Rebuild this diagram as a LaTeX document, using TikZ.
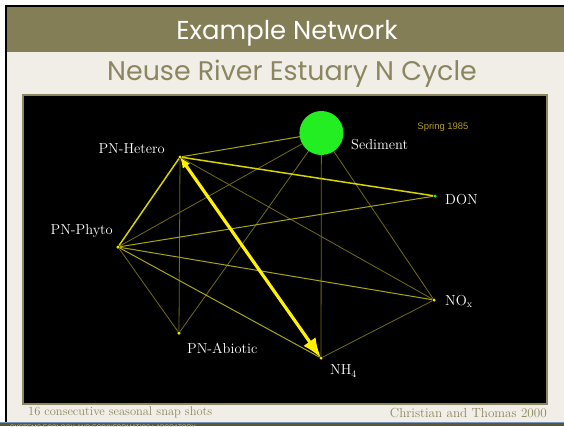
\documentclass[tikz,border=0pt]{standalone}
\usepackage{fontspec}
\newfontfamily\titlefont{Poppins}
\newfontfamily\smallsans{Liberation Sans}
\usetikzlibrary{arrows.meta}
\definecolor{slideolive}{HTML}{837E55}
\definecolor{slidebeige}{HTML}{F0EEE6}
\definecolor{subolive}{HTML}{8C8660}
\definecolor{bandolive}{HTML}{5B5638}
\definecolor{bandblue}{HTML}{7595BC}
\definecolor{sedgreen}{HTML}{22EE22}
\definecolor{dimyellow}{HTML}{6F6C14}
\definecolor{midyellow}{HTML}{A8A512}
\definecolor{hotyellow}{HTML}{D8D400}
\definecolor{springgold}{HTML}{B39B1E}

\tikzset{
  pool/.style={circle,fill=yellow!85!olive,inner sep=0pt,minimum size=3.5pt},
  poolname/.style={text=white,font=\fontsize{14.5}{16}\selectfont,inner sep=0pt},
  weakflow/.style={draw=dimyellow,line width=0.8pt},
  midflow/.style={draw=midyellow,line width=1pt},
  hotflow/.style={draw=hotyellow,line width=1.5pt},
  bigflow/.style={draw=yellow,line width=3.2pt,
    {Latex[length=11pt,width=9pt]}-{Latex[length=20pt,width=15pt]}},
}

\begin{document}
\begin{tikzpicture}[x=1bp,y=-1bp]
\useasboundingbox (0,0) rectangle (564,426);
% slide background
\fill[white] (0,0) rectangle (564,426);
\fill[black] (5,5) rectangle (564,422);
\fill[slideolive] (7,7) rectangle (564,52);
\fill[slidebeige] (7,52) rectangle (564,422);
\fill[bandolive] (0,422) rectangle (564,426);
\draw[bandblue,line width=1bp] (0,422) -- (564,422);
\begin{scope}
\clip (0,422.5) rectangle (564,426);
\node[anchor=base west,inner sep=0pt,text=slidebeige!70!bandolive,font=\smallsans\fontsize{6.5}{8}\selectfont]
  (lab) at (10,429.5) {SYSTEMS ECOLOGY AND ECOINFORMATICS LABORATORY};
\end{scope}

% titles
\node[text=white,font=\titlefont\fontsize{26}{30}\selectfont] (title) at (287,33) {Example Network};
\node[text=subolive,font=\titlefont\fontsize{27}{30}\selectfont] (subtitle) at (292,74) {Neuse River Estuary N Cycle};

% black panel
\draw[subolive,line width=1.5bp,fill=black] (23,95) rectangle (547,404);

% pools
\node[pool] (het) at (180,157) {};
\node[pool] (phy) at (118,247) {};
\node[pool] (abi) at (179,333) {};
\node[pool,fill=sedgreen] (don) at (435,196) {};
\node[pool] (nox) at (434,300) {};
\node[pool] (nh) at (321,358) {};
\coordinate (sed) at (321.4,133);

% flows
\draw[weakflow] (phy) -- (abi);
\draw[weakflow] (phy) -- (sed);
\draw[weakflow] (abi) -- (sed);
\draw[weakflow] (het) -- (abi);
\draw[weakflow] (het) -- (nox);
\draw[weakflow] (sed) -- (nox);
\draw[weakflow] (nh) -- (nox);
\draw[weakflow] (sed) -- (nh);
\draw[midflow] (het) -- (sed);
\draw[midflow] (phy) -- (don);
\draw[midflow] (phy) -- (nox);
\draw[midflow] (phy) -- (nh);
\draw[hotflow] (het) -- (don);
\draw[hotflow] (phy) -- (het);
\draw[bigflow] (het.center) -- (nh.center);

\node[circle,fill=sedgreen,minimum size=44bp,inner sep=0pt] (sedpool) at (sed) {};

% pool names
\node[poolname,anchor=east] (hetname) at (165,149) {PN-Hetero};
\node[poolname,anchor=west] (sedname) at (351,145) {Sediment};
\node[poolname,anchor=west] (donname) at (445,200) {DON};
\node[poolname,anchor=east] (phyname) at (113,231) {PN-Phyto};
\node[poolname,anchor=west] (noxname) at (445,301) {NO$_{\mathrm{x}}$};
\node[poolname,anchor=west] (abiname) at (187,348) {PN-Abiotic};
\node[poolname,anchor=west] (nhname) at (330,371) {NH$_4$};
\node[text=springgold,font=\smallsans\fontsize{9.5}{11}\selectfont,inner sep=0pt] (season) at (443,127) {Spring 1985};

% footers
\node[anchor=west,text=subolive,font=\fontsize{12.5}{14}\selectfont,inner sep=0pt] (snaps) at (28,412) {16 consecutive seasonal snap shots};
\node[anchor=east,text=subolive,font=\fontsize{13.2}{15}\selectfont,inner sep=0pt] (cite) at (547,413) {Christian and Thomas 2000};
\end{tikzpicture}
\end{document}
